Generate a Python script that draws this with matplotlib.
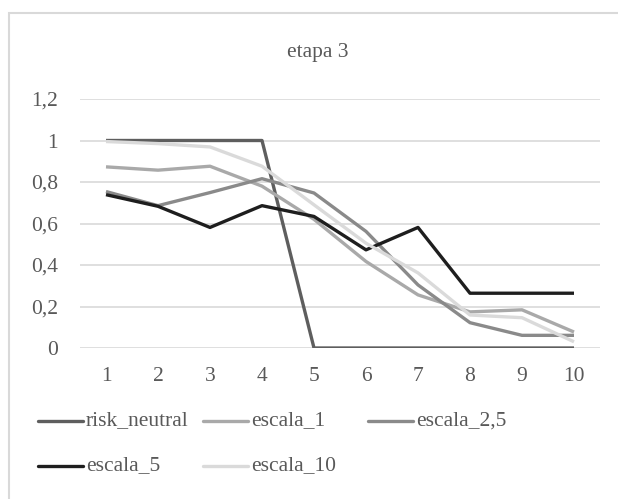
import matplotlib
matplotlib.use("Agg")
import matplotlib.pyplot as plt
from matplotlib.lines import Line2D
from matplotlib.patches import Rectangle
from matplotlib.ticker import FuncFormatter

# Stage 3 results per scenario
etapas = [1, 2, 3, 4, 5, 6, 7, 8, 9, 10]
risk_neutral = [1, 1, 1, 1, 0, 0, 0, 0, 0, 0]
escala_1 = [0.873, 0.857, 0.876, 0.78, 0.62, 0.417, 0.256, 0.174, 0.184, 0.077]
escala_2_5 = [0.754, 0.686, 0.749, 0.816, 0.747, 0.562, 0.304, 0.122, 0.061, 0.061]
escala_5 = [0.739, 0.683, 0.581, 0.686, 0.634, 0.473, 0.581, 0.264, 0.264, 0.264]
escala_10 = [0.995, 0.985, 0.969, 0.876, 0.69, 0.505, 0.362, 0.159, 0.146, 0.03]

series = [
    ("risk_neutral", risk_neutral, "#5e5e5e"),
    ("escala_1", escala_1, "#a9a9a9"),
    ("escala_2,5", escala_2_5, "#8a8a8a"),
    ("escala_5", escala_5, "#1e1e1e"),
    ("escala_10", escala_10, "#dadada"),
]

plt.rcParams["font.family"] = ["Liberation Serif", "DejaVu Serif"]
text_color = "#595959"
fs = 15.5

W, H = 618, 499
fig = plt.figure(figsize=(W / 100, H / 100), dpi=100)

# chart area border (top and left edges)
fig.add_artist(Rectangle((9 / W, -0.1), 1.2, 1 - 13 / H + 0.1, transform=fig.transFigure,
                         fill=False, edgecolor="#d9d9d9", linewidth=1.5))

ax = fig.add_axes([80 / W, 1 - 348 / H, 520 / W, (348 - 99) / H])

for name, vals, color in series:
    ax.plot(etapas, vals, color=color, linewidth=2.4, solid_capstyle="butt", zorder=3)

ax.set_xlim(0.5, 10.5)
ax.set_ylim(0, 1.2)
ax.set_yticks([0, 0.2, 0.4, 0.6, 0.8, 1.0, 1.2])
ax.set_xticks(etapas)
ax.yaxis.set_major_formatter(FuncFormatter(
    lambda v, p: "0" if v == 0 else ("1" if abs(v - 1) < 1e-9 else f"{v:.1f}".replace(".", ","))))
ax.grid(axis="y", color="#d9d9d9", linewidth=1.2, zorder=0)
for s in ax.spines.values():
    s.set_visible(False)
ax.tick_params(length=0, labelsize=fs, labelcolor=text_color)
ax.tick_params(axis="y", pad=16)
ax.tick_params(axis="x", pad=14)

fig.text(318 / W, 1 - 52 / H, "etapa 3", ha="center", va="center",
         fontsize=fs, color=text_color)

# legend, laid out row by row
col_x = [38, 203, 368]
row_y = [421, 466]
for i, (name, vals, color) in enumerate(series):
    x0 = col_x[i % 3]
    y0 = 1 - row_y[i // 3] / H
    fig.add_artist(Line2D([x0 / W, (x0 + 45) / W], [y0, y0], transform=fig.transFigure,
                          color=color, linewidth=2.4, solid_capstyle="round"))
    fig.text((x0 + 48) / W, y0, name, ha="left", va="center", fontsize=fs, color=text_color)

fig.savefig("out.png", dpi=100)
